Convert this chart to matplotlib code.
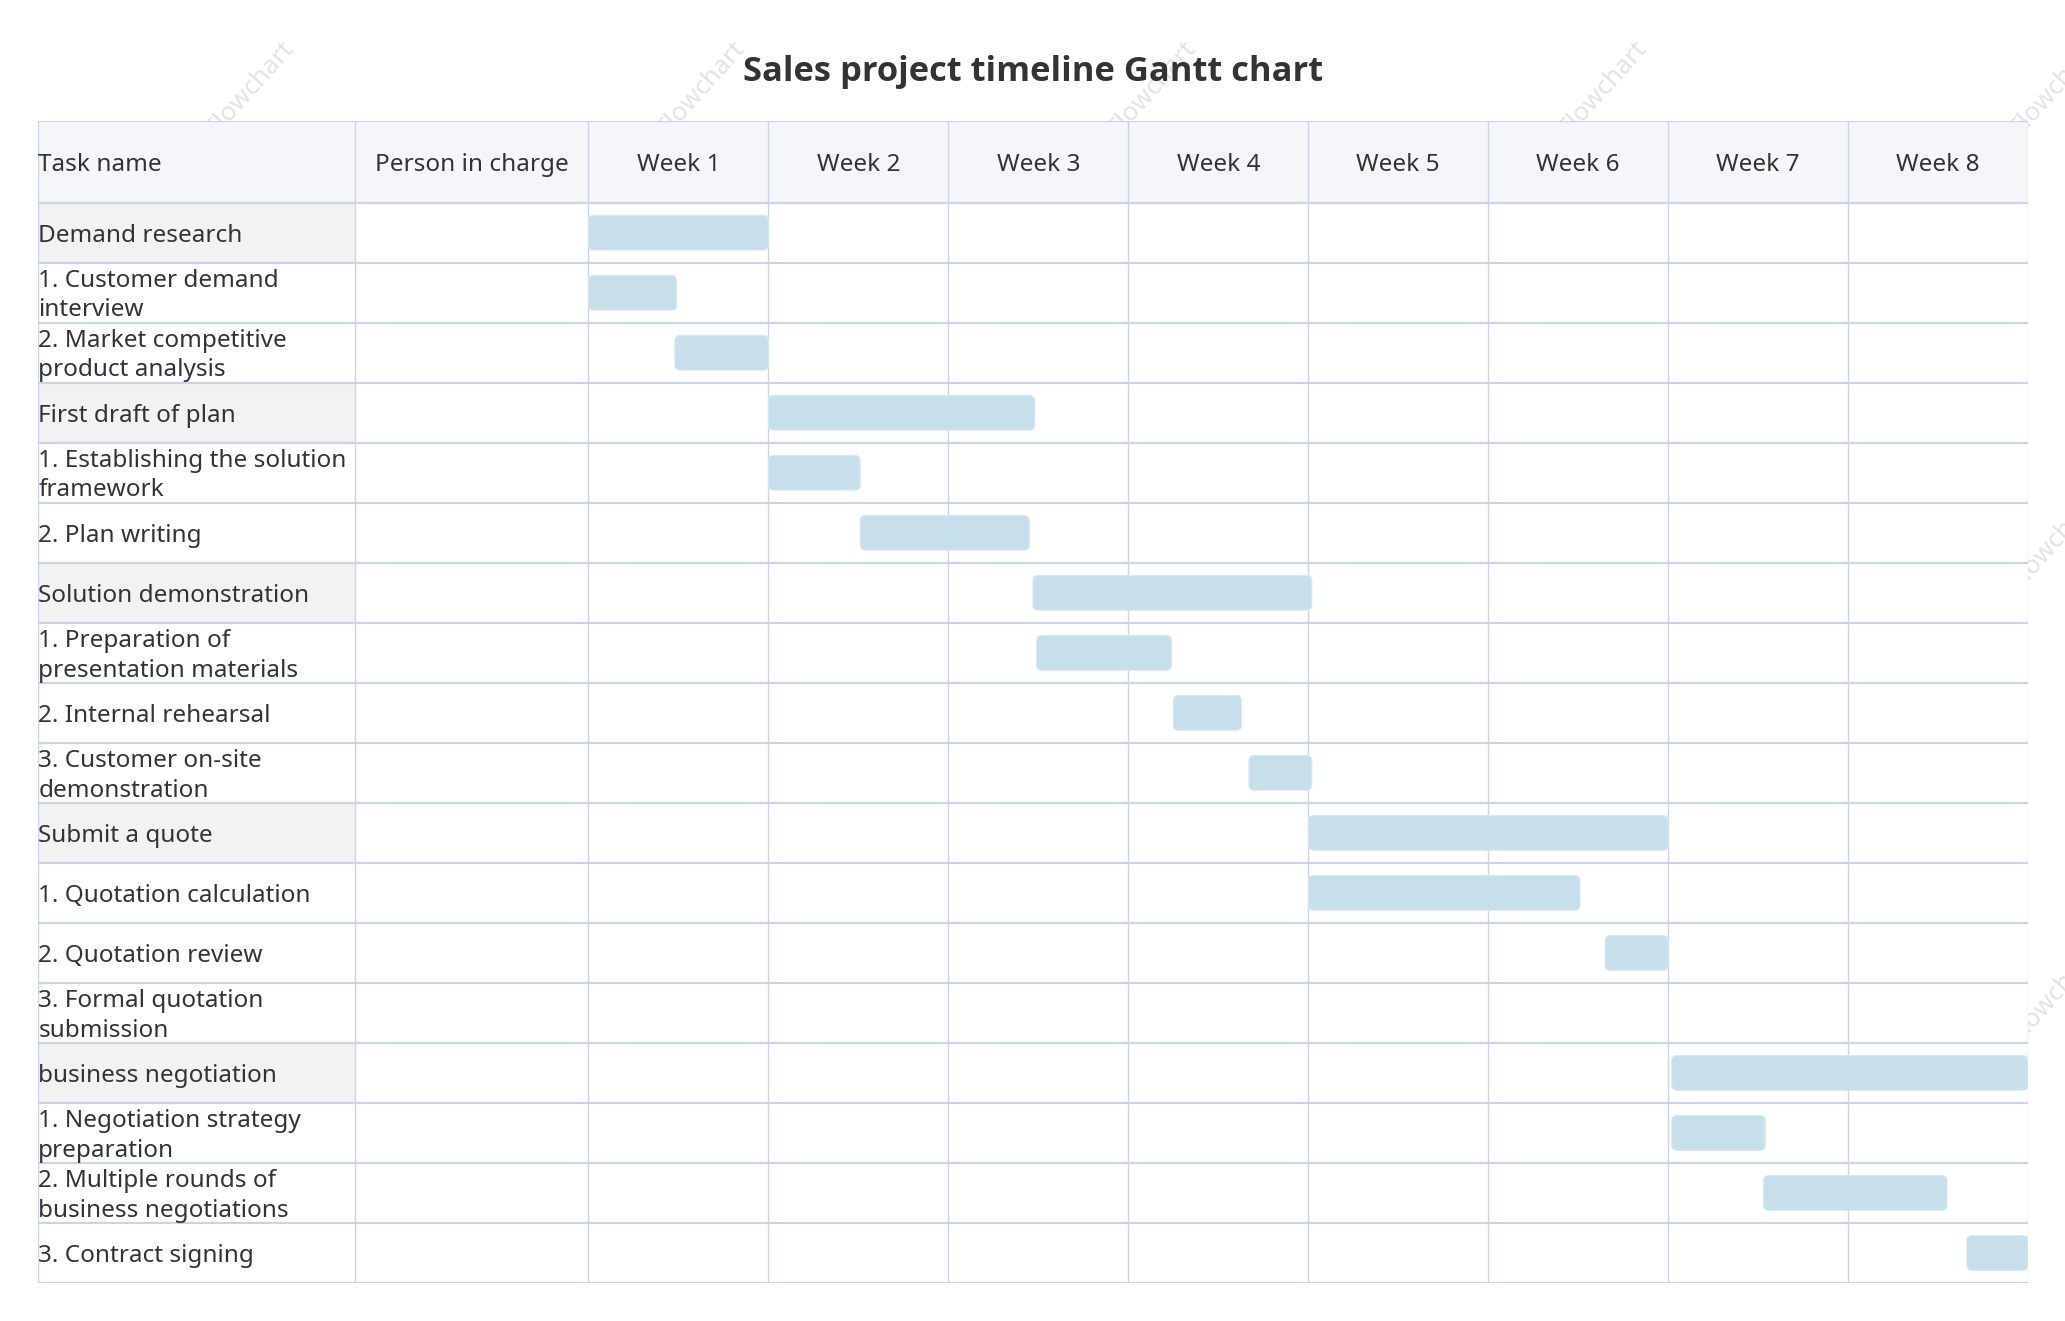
import numpy as np
import matplotlib.pyplot as plt
from matplotlib.patches import Rectangle, FancyBboxPatch

plt.rcParams['font.family'] = ['Noto Sans', 'DejaVu Sans']

#-chart data
title = "Sales project timeline Gantt chart"
header = ["Task name", "Person in charge"]
weeks = ["Week 1", "Week 2", "Week 3", "Week 4", "Week 5", "Week 6", "Week 7", "Week 8"]

tasks = [
    "Demand research",
    "1. Customer demand\ninterview",
    "2. Market competitive\nproduct analysis",
    "First draft of plan",
    "1. Establishing the solution\nframework",
    "2. Plan writing",
    "Solution demonstration",
    "1. Preparation of\npresentation materials",
    "2. Internal rehearsal",
    "3. Customer on-site\ndemonstration",
    "Submit a quote",
    "1. Quotation calculation",
    "2. Quotation review",
    "3. Formal quotation\nsubmission",
    "business negotiation",
    "1. Negotiation strategy\npreparation",
    "2. Multiple rounds of\nbusiness negotiations",
    "3. Contract signing",
]
is_group = [1, 0, 0, 1, 0, 0, 1, 0, 0, 0, 1, 0, 0, 0, 1, 0, 0, 0]

#-start / end in weeks (nan = no bar)
start = [0.0, 0.0, 0.48, 1.0, 1.0, 1.51, 2.47, 2.49, 3.25, 3.67, 4.0, 4.0, 5.65, np.nan, 6.02, 6.02, 6.53, 7.66]
end   = [1.0, 0.49, 1.0, 2.48, 1.51, 2.45, 4.02, 3.24, 3.63, 4.02, 6.0, 5.51, 6.0, np.nan, 8.0, 6.54, 7.55, 8.0]

#-colours
line_c = "#cdd3e6"
head_bg = "#f5f6fa"
group_bg = "#f2f2f2"
bar_c = "#c6dfea"
txt_c = "#333333"

W, H = 2065, 1321
fig = plt.figure(figsize=(W/100, H/100), dpi=100)

#-table geometry (pixels -> axes units: 1 week in x, 1 row in y)
tab_l, tab_r, tab_t, tab_b = 38, 2028, 121, 1283
week_px = (tab_r - 588.5)/len(weeks)
task_w = (355 - tab_l)/week_px
person_w = (588.5 - 355)/week_px
nrow = len(tasks)
row_px = (tab_b - 202.7)/nrow
head_h = (202.7 - tab_t)/row_px

ax = fig.add_axes([tab_l/W, 1 - tab_b/H, (tab_r - tab_l)/W, (tab_b - tab_t)/H])
x0 = -(task_w + person_w)
ax.set_xlim(x0, len(weeks))
ax.set_ylim(nrow, -head_h)
ax.axis("off")

#-watermarks (under the table)
for k in range(5):
    for j in range(3):
        fig.text((250 + 451*k)/W, 1 - (88 + 453*j)/H, "Flowchart", rotation=48,
                 ha="center", va="center", fontsize=18.5, color="#e3e3e3", zorder=-5)

#-cell backgrounds
ax.add_patch(Rectangle((x0, 0), len(weeks) - x0, nrow, fc="white", ec="none", zorder=0))
ax.add_patch(Rectangle((x0, -head_h), len(weeks) - x0, head_h, fc=head_bg, ec="none", zorder=0))
for i, g in enumerate(is_group):
    if g:
        ax.add_patch(Rectangle((x0, i), task_w, 1, fc=group_bg, ec="none", zorder=0.5))

#-grid lines
for xv in [x0, -person_w] + list(range(len(weeks) + 1)):
    ax.plot([xv, xv], [-head_h, nrow], color=line_c, lw=1.0, zorder=1, solid_capstyle="butt")
for yv in [-head_h] + list(range(nrow + 1)):
    ax.plot([x0, len(weeks)], [yv, yv], color=line_c, lw=1.6, zorder=1, solid_capstyle="butt")

#-header text
fs = 17.5
dy = 0.05
ax.text(x0 + 0.002, -head_h/2 + dy, header[0], ha="left", va="center", fontsize=fs, color=txt_c)
ax.text(-person_w/2, -head_h/2 + dy, header[1], ha="center", va="center", fontsize=fs, color=txt_c)
for k, wk in enumerate(weeks):
    ax.text(k + 0.5, -head_h/2 + dy, wk, ha="center", va="center", fontsize=fs, color=txt_c)

#-task names
for i, t in enumerate(tasks):
    ax.text(x0 + 0.002, i + 0.5 + dy, t, ha="left", va="center", fontsize=fs,
            color=txt_c, linespacing=1.3, zorder=3)

#-bars
bar_h = 0.58
for i, (s, e) in enumerate(zip(start, end)):
    if np.isnan(s):
        continue
    ax.add_patch(FancyBboxPatch((s, i + 0.5 - bar_h/2), e - s, bar_h,
                                boxstyle="round,pad=0,rounding_size=0.03",
                                mutation_aspect=week_px/row_px,
                                fc=bar_c, ec="#d9e9f0", lw=0.8, zorder=2))

fig.text(((tab_l + tab_r)/2)/W, 1 - 72/H, title, ha="center", va="center",
         fontsize=24.8, fontweight="bold", color=txt_c,
         family=["Open Sans", "Roboto", "DejaVu Sans"])

fig.savefig("out.png", dpi=100, facecolor="white")
